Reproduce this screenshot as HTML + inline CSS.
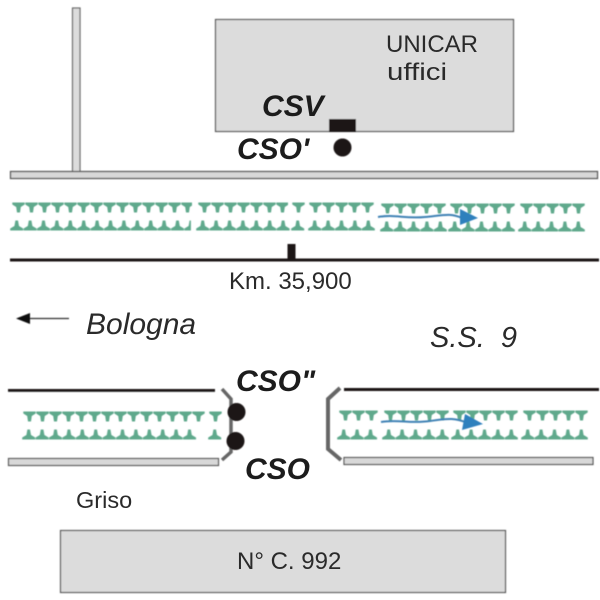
<!DOCTYPE html>
<html><head><meta charset="utf-8"><style>
html,body{margin:0;padding:0;background:#fff}
svg{display:block}
text{font-family:"Liberation Sans",sans-serif;fill:#2a2a2a}
.b{font-weight:bold;font-style:italic;fill:#1c1c1c}
</style></head><body>
<svg width="600" height="600" viewBox="0 0 600 600" xmlns="http://www.w3.org/2000/svg">
<defs>
<pattern id="t" patternUnits="userSpaceOnUse" width="13" height="12">
<path d="M0.300 0.500H12.700V2.500L8.800 5L8 10.500H5L4.200 5L0.300 2.500Z" fill="#5ea98c"/>
</pattern>
<pattern id="a" patternUnits="userSpaceOnUse" width="13.400" height="12">
<path d="M5.400 0.500H8L9 6L13.200 8.500V10.500H0.200V8.500L4.400 6Z" fill="#5ea98c"/>
</pattern>
<filter id="s" x="-5%" y="-5%" width="110%" height="110%"><feGaussianBlur stdDeviation="0.450"/></filter>
</defs>
<g filter="url(#s)">
<!-- UNICAR building -->
<rect x="215.500" y="19.500" width="298" height="112" fill="#dcdcdc" stroke="#555" stroke-width="1.200"/>
<rect x="72.500" y="8" width="7.500" height="164" fill="#dcdcdc" stroke="#666" stroke-width="1.200"/>
<rect x="10.500" y="171.500" width="587" height="7" fill="#d8d8d8" stroke="#555" stroke-width="1.300"/>
<rect x="329" y="119" width="27" height="13" fill="#1a1414"/>
<circle cx="342.500" cy="147.500" r="9" fill="#1a1414"/>

<!-- upper trees -->
<rect transform="translate(12,202)" width="180" height="11" fill="url(#t)"/>
<rect transform="translate(198,202)" width="90" height="11" fill="url(#t)"/>
<rect transform="translate(292,202)" width="13" height="11" fill="url(#t)"/>
<rect transform="translate(309,202)" width="65" height="11" fill="url(#t)"/>
<rect transform="translate(381,203)" width="65" height="11" fill="url(#t)"/>
<rect transform="translate(450,203)" width="65" height="11" fill="url(#t)"/>
<rect transform="translate(520,203)" width="65" height="11" fill="url(#t)"/>
<rect transform="translate(10,220)" width="180.900" height="11" fill="url(#a)"/>
<rect transform="translate(196,220)" width="93.800" height="11" fill="url(#a)"/>
<rect transform="translate(291,220)" width="13.400" height="11" fill="url(#a)"/>
<rect transform="translate(308,220)" width="67" height="11" fill="url(#a)"/>
<rect transform="translate(380,221)" width="67" height="11" fill="url(#a)"/>
<rect transform="translate(448,221)" width="67" height="11" fill="url(#a)"/>
<rect transform="translate(518,221)" width="67" height="11" fill="url(#a)"/>

<path d="M378 217C395 214 405 219 425 217S450 213 462 218" fill="none" stroke="#3f82b5" stroke-width="2"/>
<path d="M460 209L478 218L460 225Z" fill="#2f80bd"/>

<rect x="10" y="258.500" width="589" height="3" fill="#1a1414"/>
<rect x="287.500" y="244" width="8" height="15" fill="#1a1414"/>

<!-- left arrow -->
<path d="M28 318.500H69" stroke="#333" stroke-width="1.200"/>
<path d="M16 318.500L30 313V324Z" fill="#111"/>

<!-- lower left road -->
<rect x="8" y="389" width="207" height="2.800" fill="#1a1414"/>
<rect x="8.500" y="458.500" width="210" height="7" fill="#d8d8d8" stroke="#555" stroke-width="1.200"/>
<rect transform="translate(23,411)" width="182" height="11" fill="url(#t)"/>
<rect transform="translate(209,411)" width="13" height="11" fill="url(#t)"/>
<rect transform="translate(22,429)" width="174.200" height="11" fill="url(#a)"/>
<rect transform="translate(208,429)" width="13.400" height="11" fill="url(#a)"/>
<path d="M222 389L231 399V452L222 460" fill="none" stroke="#666" stroke-width="3.500"/>
<circle cx="236.500" cy="412" r="9" fill="#1a1414"/>
<circle cx="235.500" cy="441" r="9" fill="#1a1414"/>

<!-- lower right road -->
<rect x="344" y="388" width="255" height="3" fill="#1a1414"/>
<rect x="344" y="457.500" width="249" height="7" fill="#d8d8d8" stroke="#555" stroke-width="1.200"/>
<path d="M340 388L328 399V449L341 460" fill="none" stroke="#666" stroke-width="4"/>
<rect transform="translate(339,410)" width="39" height="11" fill="url(#t)"/>
<rect transform="translate(384,410)" width="65" height="11" fill="url(#t)"/>
<rect transform="translate(453,410)" width="65" height="11" fill="url(#t)"/>
<rect transform="translate(523,410)" width="65" height="11" fill="url(#t)"/>
<rect transform="translate(337,429)" width="40.200" height="11" fill="url(#a)"/>
<rect transform="translate(382,429)" width="67" height="11" fill="url(#a)"/>
<rect transform="translate(451,429)" width="67" height="11" fill="url(#a)"/>
<rect transform="translate(521,429)" width="67" height="11" fill="url(#a)"/>
<path d="M381 422C398 419 410 424 430 421S455 418 468 423" fill="none" stroke="#3f82b5" stroke-width="2"/>
<path d="M465 414L483 424L462 430Z" fill="#2f80bd"/>

<!-- Griso building -->
<rect x="60.500" y="530.500" width="445" height="62" fill="#dcdcdc" stroke="#555" stroke-width="1.200"/>
</g>

<text x="386" y="52" font-size="24" textLength="92" lengthAdjust="spacingAndGlyphs">UNICAR</text>
<text x="387" y="80" font-size="24" textLength="60" lengthAdjust="spacingAndGlyphs">uffici</text>
<text class="b" x="262" y="116" font-size="30">CSV</text>
<text class="b" x="237" y="159" font-size="30">CSO'</text>
<text x="229" y="289" font-size="24">Km. 35,900</text>
<text x="86" y="334" font-size="30" font-style="italic">Bologna</text>
<text x="430" y="347" font-size="29" font-style="italic" xml:space="preserve">S.S.  9</text>
<text class="b" x="236" y="391" font-size="30">CSO"</text>
<text class="b" x="245" y="479" font-size="30">CSO</text>
<text x="76" y="508" font-size="23.500">Griso</text>
<text x="237" y="569" font-size="24">N° C. 992</text>
</svg>
</body></html>
